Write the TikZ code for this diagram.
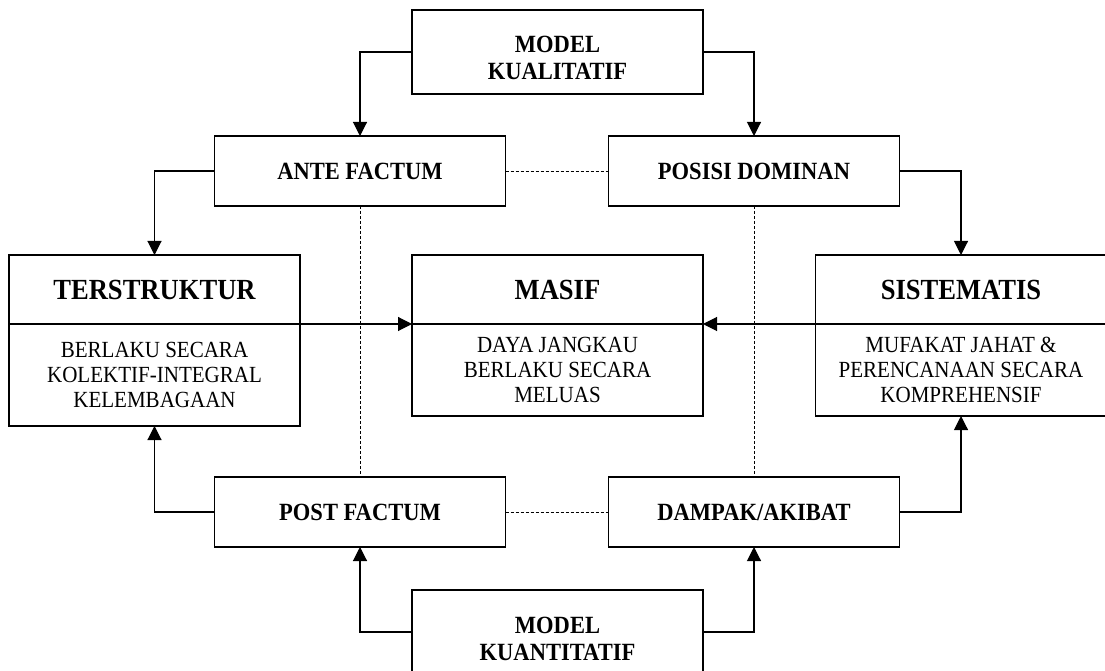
\documentclass[tikz,border=0pt]{standalone}
\usepackage{fontspec}
\setmainfont{Liberation Serif}[FakeStretch=0.91]
\usetikzlibrary{arrows.meta}
\usetikzlibrary{positioning}

\begin{document}
\begin{tikzpicture}[x=1pt,y=1pt,
    box/.style={draw,line width=1.7pt,outer sep=0pt,minimum width=291pt,align=center,font=\fontsize{24.75}{27}\selectfont\bfseries},
    head/.style={box,minimum height=69pt,font=\fontsize{29.2}{32}\selectfont\bfseries},
    body/.style={box,font=\fontsize{23.1}{24.6}\selectfont},
    modelteks/.style={font=\fontsize{24.75}{27}\selectfont\bfseries,align=center},
    arah/.style={line width=1.1pt,-{Triangle[width=14pt,length=14pt]}},
    putus/.style={line width=0.9pt,dash pattern=on 3pt off 2pt}]
    \clip (0,0) rectangle (1105,670);
    % top and bottom models
    \node[box,minimum height=84pt] (kual) at (557.5,618) {};
    \node[modelteks] (kualteks) at ([yshift=-6pt]kual.center) {MODEL\\KUALITATIF};
    \node[box,minimum height=84pt] (kuan) at (557.5,38) {};
    \node[modelteks] (kuanteks) at ([yshift=-7pt]kuan.center) {MODEL\\KUANTITATIF};
    % facta
    \node[box,minimum height=70pt] (ante) at (360,499) {ANTE FACTUM};
    \node[box,minimum height=70pt] (posisi) at (754,499) {POSISI DOMINAN};
    \node[box,minimum height=70pt] (post) at (360,158) {POST FACTUM};
    \node[box,minimum height=70pt] (dampak) at (754,158) {DAMPAK/AKIBAT};
    % the three split boxes
    \node[head] (ter) at (154.5,380.5) {TERSTRUKTUR};
    \node[body,minimum height=102pt,below=0pt of ter] (teri) {BERLAKU SECARA\\KOLEKTIF-INTEGRAL\\KELEMBAGAAN};
    \node[head] (masif) at (557.5,380.5) {MASIF};
    \node[body,minimum height=92pt,below=0pt of masif] (masifi) {DAYA JANGKAU\\BERLAKU SECARA\\MELUAS};
    \node[head] (sis) at (961,380.5) {SISTEMATIS};
    \node[body,minimum height=92pt,below=0pt of sis] (sisi) {MUFAKAT JAHAT \&\\PERENCANAAN SECARA\\KOMPREHENSIF};
    % arrows
    \draw[arah] (kual.west) -| (ante.north);
    \draw[arah] (kual.east) -| (posisi.north);
    \draw[arah] (ante.west) -| (ter.north);
    \draw[arah] (posisi.east) -| (sis.north);
    \draw[arah] (ter.south east) -- (masif.south west);
    \draw[arah] (sis.south west) -- (masif.south east);
    \draw[arah] (post.west) -| (teri.south);
    \draw[arah] (dampak.east) -| (sisi.south);
    \draw[arah] (kuan.west) -| (post.south);
    \draw[arah] (kuan.east) -| (dampak.south);
    % dashed links
    \draw[putus] (ante.east) -- (posisi.west);
    \draw[putus] (post.east) -- (dampak.west);
    \draw[putus] (ante.south) -- (post.north);
    \draw[putus] (posisi.south) -- (dampak.north);
\end{tikzpicture}
\end{document}
